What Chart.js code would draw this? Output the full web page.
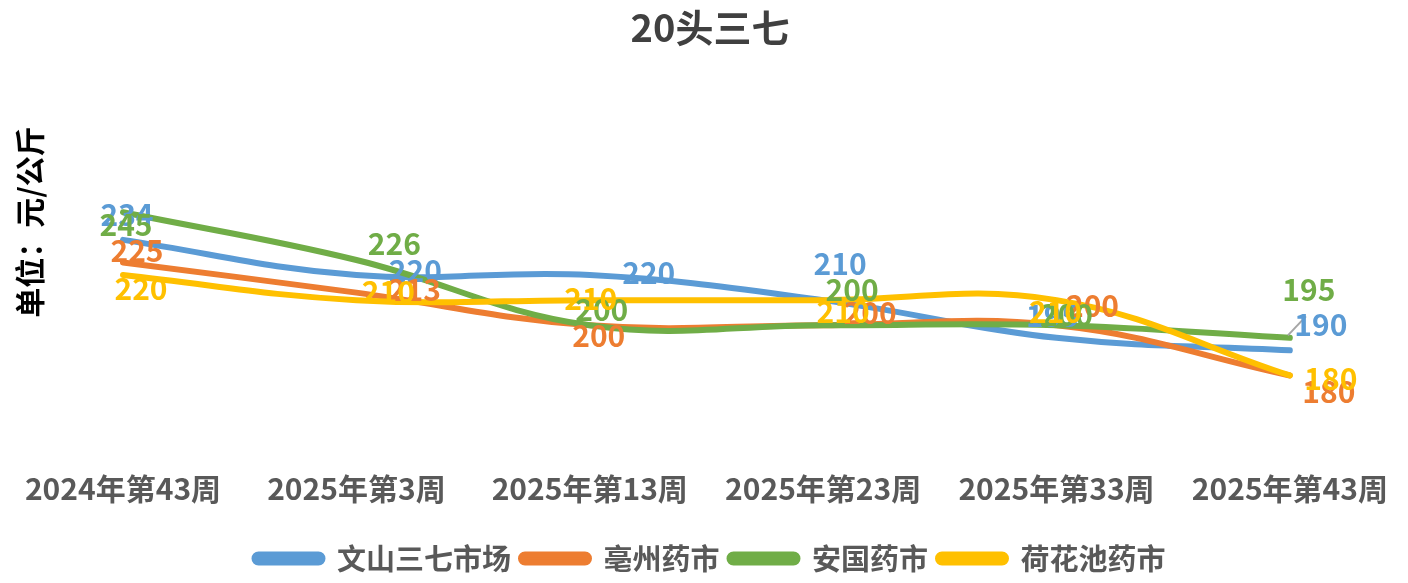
<!DOCTYPE html>
<html>
<head>
<meta charset="utf-8">
<script src="https://cdn.jsdelivr.net/npm/chart.js@4"></script>
<style>
  html, body { margin: 0; padding: 0; background: #fff; }
  #wrap { width: 1408px; height: 583px; }
</style>
</head>
<body>
<div id="wrap"><canvas id="priceChart" width="1408" height="583"></canvas></div>
<script>
const categories = ['2024年第43周', '2025年第3周', '2025年第13周', '2025年第23周', '2025年第33周', '2025年第43周'];
const seriesNames = ['文山三七市场', '亳州药市', '安国药市', '荷花池药市'];
const wenshan = [234, 220, 220, 210, 195, 190];
const bozhou = [225, 213, 200, 200, 200, 180];
const anguo = [245, 226, 200, 200, 200, 195];
const hehuachi = [220, 210, 210, 210, 210, 180];

const colors = ['#5B9BD5', '#ED7D31', '#70AD47', '#FFC000'];
const font = "'Noto Sans CJK SC', 'Noto Sans', sans-serif";

// where each value label sits relative to its point (Excel labels were dragged by hand)
const labelOffsets = [
  [[4, -25], [59, -4], [59, -2], [17, -37], [-4, -22], [31, -26]],
  [[14, -12], [58, -3], [9, 10], [47, -13], [36, -20], [39, 16]],
  [[3, 12], [38, -16], [12, -16], [29, -36], [10, -11], [19, -48]],
  [[18, 14], [32, -9], [1, -2], [20, 11], [-1, 11], [41, 3]],
];

const valueLabels = {
  id: 'valueLabels',
  afterDatasetsDraw(chart) {
    const { ctx } = chart;
    ctx.save();
    ctx.font = `bold 30px ${font}`;
    ctx.textAlign = 'center';
    ctx.textBaseline = 'middle';
    chart.data.datasets.forEach((ds, i) => {
      const meta = chart.getDatasetMeta(i);
      meta.data.forEach((pt, j) => {
        const [dx, dy] = labelOffsets[i][j];
        // leader line for the one label pulled away from its point
        if (i === 0 && j === ds.data.length - 1) {
          ctx.strokeStyle = '#A6A6A6';
          ctx.lineWidth = 2;
          ctx.beginPath();
          ctx.moveTo(pt.x - 2, pt.y - 15);
          ctx.lineTo(pt.x + 16, pt.y - 34);
          ctx.stroke();
        }
        ctx.fillStyle = colors[i];
        ctx.fillText(String(ds.data[j]), pt.x + dx, pt.y + dy);
      });
    });
    ctx.restore();
  },
};

const yTitle = {
  id: 'yTitle',
  afterDraw(chart) {
    const { ctx } = chart;
    ctx.save();
    ctx.translate(30, 222);
    ctx.rotate(-Math.PI / 2);
    ctx.font = `bold 30px ${font}`;
    ctx.fillStyle = '#000';
    ctx.textAlign = 'center';
    ctx.textBaseline = 'middle';
    ctx.fillText('单位：元/公斤', 0, 0);
    ctx.restore();
  },
};

const makeSet = (label, data, i) => ({
  label,
  data,
  borderColor: colors[i],
  backgroundColor: colors[i],
  borderWidth: 6,
  pointRadius: 0,
  tension: 0.4,
  borderCapStyle: 'round',
  order: 3 - i,
});

new Chart(document.querySelector('#priceChart').getContext('2d'), {
  type: 'line',
  data: {
    labels: categories,
    datasets: [
      makeSet(seriesNames[0], wenshan, 0),
      makeSet(seriesNames[1], bozhou, 1),
      makeSet(seriesNames[2], anguo, 2),
      makeSet(seriesNames[3], hehuachi, 3),
    ],
  },
  options: {
    responsive: false,
    animation: false,
    layout: { padding: { left: 123, right: 111, top: 0, bottom: 0 } },
    scales: {
      x: {
        offset: false,
        grid: { display: false, drawTicks: false },
        border: { display: false },
        ticks: { padding: 20, color: '#595959', font: { family: font, size: 30, weight: 'bold' }, maxRotation: 0, autoSkip: false },
        title: { display: true, text: '', font: { size: 1 }, padding: { top: 6, bottom: 0 } },
      },
      y: { display: false, min: 150, max: 260 },
    },
    plugins: {
      title: {
        display: true,
        text: '20头三七',
        color: '#404040',
        font: { family: font, size: 38, weight: 'bold' },
        padding: { top: 5, bottom: 124 },
      },
      legend: {
        position: 'bottom',
        labels: {
          color: '#595959',
          font: { family: font, size: 29, weight: 'bold' },
          boxWidth: 68,
          boxHeight: 8,
          useBorderRadius: true,
          borderRadius: 4,
          padding: 10,
          sort: (a, b) => a.datasetIndex - b.datasetIndex,
        },
      },
      tooltip: { enabled: false },
    },
  },
  plugins: [valueLabels, yTitle],
});
</script>
</body>
</html>
